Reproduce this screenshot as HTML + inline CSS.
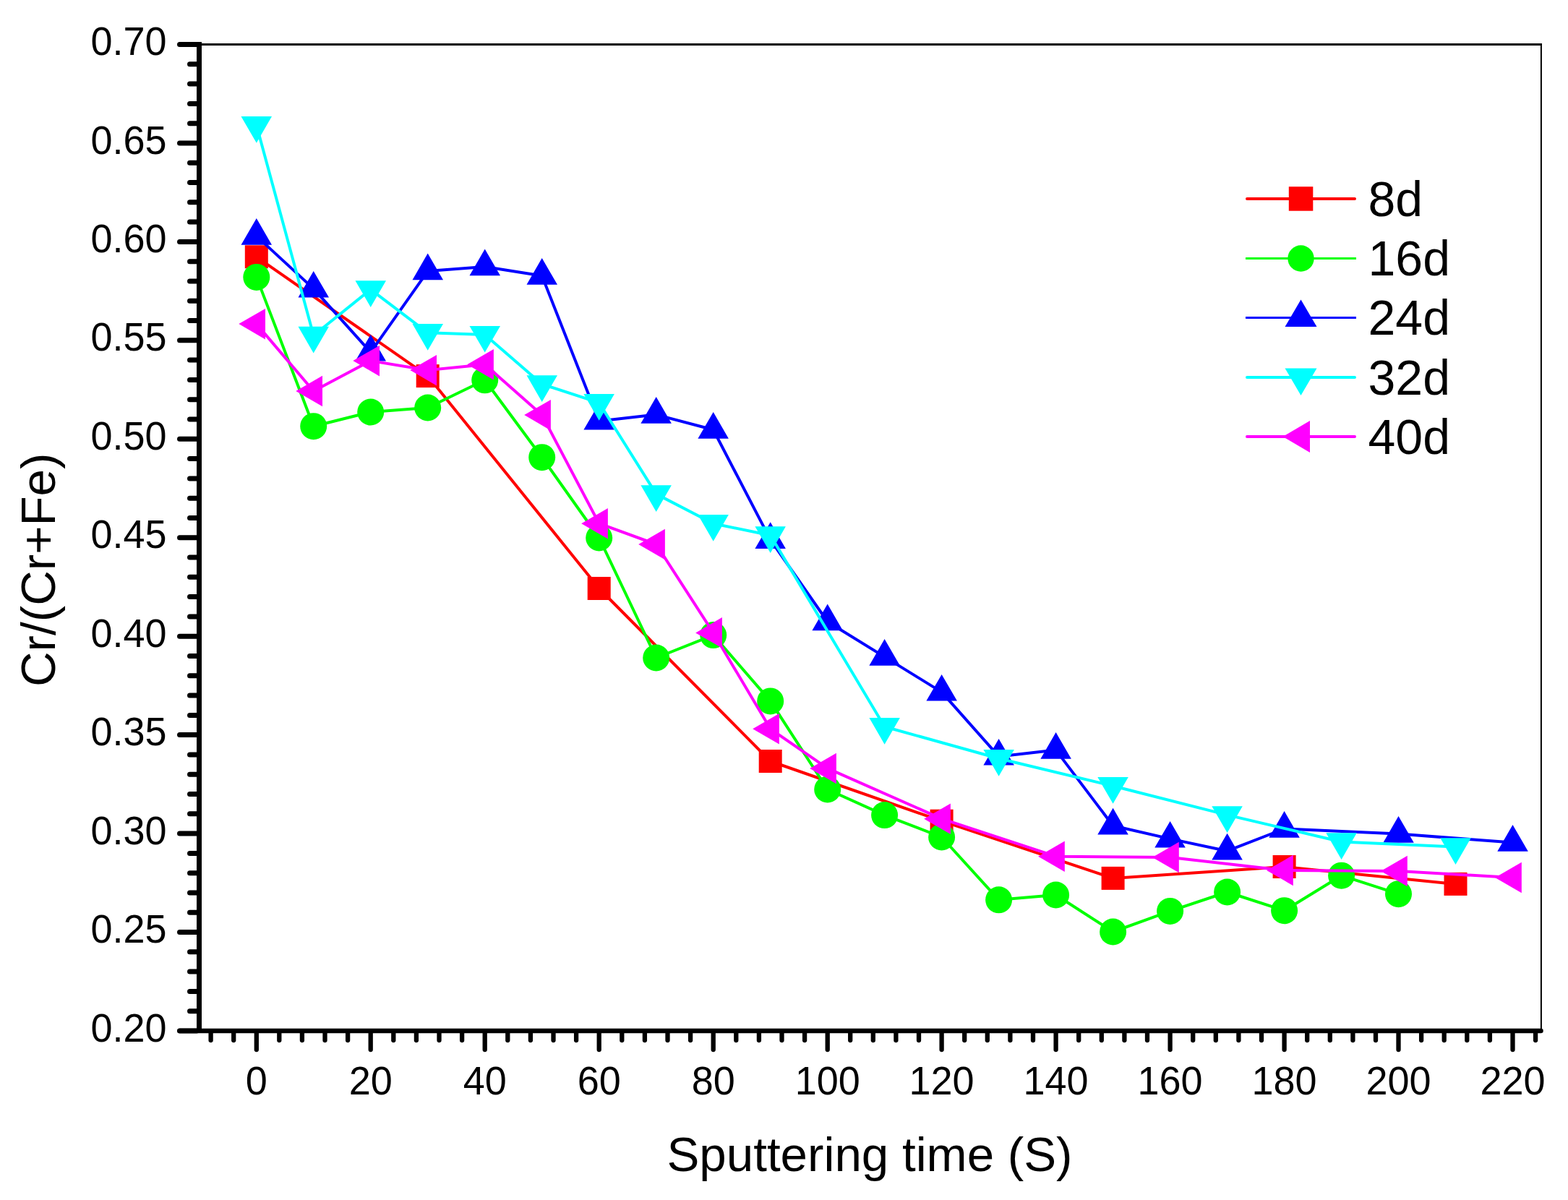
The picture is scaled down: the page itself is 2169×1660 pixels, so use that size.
<!DOCTYPE html>
<html><head><meta charset="utf-8"><title>Cr/(Cr+Fe) vs Sputtering time</title>
<style>html,body{margin:0;padding:0;background:#fff;}body{width:2169px;height:1660px;overflow:hidden;}svg{display:block;}text{font-family:"Liberation Sans",Arial,sans-serif;fill:#000;}</style>
</head><body>
<svg width="2169" height="1660" viewBox="0 0 2169 1660">
<rect width="2169" height="1660" fill="#fff"/>
<polyline points="354.8,355.3 591.7,520.1 828.7,814 1065.7,1053 1302.6,1135.7 1539.6,1214.9 1776.6,1199 2013.5,1222.9" fill="none" stroke="#ff0000" stroke-width="4" stroke-linejoin="round"/>
<rect x="338.8" y="339.3" width="32" height="32" fill="#ff0000"/>
<rect x="575.7" y="504.1" width="32" height="32" fill="#ff0000"/>
<rect x="812.7" y="798" width="32" height="32" fill="#ff0000"/>
<rect x="1049.7" y="1037" width="32" height="32" fill="#ff0000"/>
<rect x="1286.6" y="1119.7" width="32" height="32" fill="#ff0000"/>
<rect x="1523.6" y="1198.9" width="32" height="32" fill="#ff0000"/>
<rect x="1760.6" y="1183" width="32" height="32" fill="#ff0000"/>
<rect x="1997.5" y="1206.9" width="32" height="32" fill="#ff0000"/>
<polyline points="354.8,383.4 433.7,589.7 512.7,570 591.7,564 670.7,525.8 749.7,632.7 828.7,744 907.7,910 986.7,878.6 1065.7,969.9 1144.7,1092 1223.6,1127.6 1302.6,1158 1381.6,1244.8 1460.6,1238 1539.6,1289 1618.6,1260.4 1697.6,1234 1776.6,1259.7 1855.6,1211.2 1934.5,1236.7" fill="none" stroke="#00ff00" stroke-width="4" stroke-linejoin="round"/>
<circle cx="354.8" cy="383.4" r="18.5" fill="#00ff00"/>
<circle cx="433.7" cy="589.7" r="18.5" fill="#00ff00"/>
<circle cx="512.7" cy="570" r="18.5" fill="#00ff00"/>
<circle cx="591.7" cy="564" r="18.5" fill="#00ff00"/>
<circle cx="670.7" cy="525.8" r="18.5" fill="#00ff00"/>
<circle cx="749.7" cy="632.7" r="18.5" fill="#00ff00"/>
<circle cx="828.7" cy="744" r="18.5" fill="#00ff00"/>
<circle cx="907.7" cy="910" r="18.5" fill="#00ff00"/>
<circle cx="986.7" cy="878.6" r="18.5" fill="#00ff00"/>
<circle cx="1065.7" cy="969.9" r="18.5" fill="#00ff00"/>
<circle cx="1144.7" cy="1092" r="18.5" fill="#00ff00"/>
<circle cx="1223.6" cy="1127.6" r="18.5" fill="#00ff00"/>
<circle cx="1302.6" cy="1158" r="18.5" fill="#00ff00"/>
<circle cx="1381.6" cy="1244.8" r="18.5" fill="#00ff00"/>
<circle cx="1460.6" cy="1238" r="18.5" fill="#00ff00"/>
<circle cx="1539.6" cy="1289" r="18.5" fill="#00ff00"/>
<circle cx="1618.6" cy="1260.4" r="18.5" fill="#00ff00"/>
<circle cx="1697.6" cy="1234" r="18.5" fill="#00ff00"/>
<circle cx="1776.6" cy="1259.7" r="18.5" fill="#00ff00"/>
<circle cx="1855.6" cy="1211.2" r="18.5" fill="#00ff00"/>
<circle cx="1934.5" cy="1236.7" r="18.5" fill="#00ff00"/>
<polyline points="354.8,326.6 433.7,399.4 512.7,487.3 591.7,375.1 670.7,369 749.7,381.5 828.7,582.4 907.7,573.6 986.7,594.5 1065.7,746.7 1144.7,860 1223.6,908.6 1302.6,957.4 1381.6,1046.4 1460.6,1037.6 1539.6,1142.3 1618.6,1160.4 1697.6,1177.2 1776.6,1146.5 1934.5,1153.5 2092.5,1165.6" fill="none" stroke="#0000ff" stroke-width="4" stroke-linejoin="round"/>
<polygon points="354.8,302.1 376,338.8 333.5,338.8" fill="#0000ff"/>
<polygon points="433.7,374.9 455,411.6 412.5,411.6" fill="#0000ff"/>
<polygon points="512.7,462.8 534,499.5 491.5,499.5" fill="#0000ff"/>
<polygon points="591.7,350.6 613,387.3 570.5,387.3" fill="#0000ff"/>
<polygon points="670.7,344.5 692,381.2 649.5,381.2" fill="#0000ff"/>
<polygon points="749.7,357 771,393.7 728.5,393.7" fill="#0000ff"/>
<polygon points="828.7,557.9 849.9,594.6 807.4,594.6" fill="#0000ff"/>
<polygon points="907.7,549.1 928.9,585.8 886.4,585.8" fill="#0000ff"/>
<polygon points="986.7,570 1007.9,606.7 965.4,606.7" fill="#0000ff"/>
<polygon points="1065.7,722.2 1086.9,758.9 1044.4,758.9" fill="#0000ff"/>
<polygon points="1144.7,835.5 1165.9,872.2 1123.4,872.2" fill="#0000ff"/>
<polygon points="1223.6,884.1 1244.9,920.8 1202.4,920.8" fill="#0000ff"/>
<polygon points="1302.6,932.9 1323.9,969.6 1281.4,969.6" fill="#0000ff"/>
<polygon points="1381.6,1021.9 1402.9,1058.6 1360.4,1058.6" fill="#0000ff"/>
<polygon points="1460.6,1013.1 1481.9,1049.8 1439.4,1049.8" fill="#0000ff"/>
<polygon points="1539.6,1117.8 1560.8,1154.5 1518.3,1154.5" fill="#0000ff"/>
<polygon points="1618.6,1135.9 1639.8,1172.6 1597.3,1172.6" fill="#0000ff"/>
<polygon points="1697.6,1152.7 1718.8,1189.4 1676.3,1189.4" fill="#0000ff"/>
<polygon points="1776.6,1122 1797.8,1158.7 1755.3,1158.7" fill="#0000ff"/>
<polygon points="1934.5,1129 1955.8,1165.7 1913.3,1165.7" fill="#0000ff"/>
<polygon points="2092.5,1141.1 2113.8,1177.8 2071.3,1177.8" fill="#0000ff"/>
<polyline points="354.8,173.3 433.7,464 512.7,400.4 591.7,460.3 670.7,463.1 749.7,531.4 828.7,557.2 907.7,683.4 986.7,724.3 1065.7,740.5 1223.6,1005.2 1381.6,1049.3 1539.6,1087.3 1697.6,1127.4 1855.6,1164.5 2013.5,1171.4" fill="none" stroke="#00ffff" stroke-width="4" stroke-linejoin="round"/>
<polygon points="354.8,197.8 376,161.1 333.5,161.1" fill="#00ffff"/>
<polygon points="433.7,488.5 455,451.8 412.5,451.8" fill="#00ffff"/>
<polygon points="512.7,424.9 534,388.2 491.5,388.2" fill="#00ffff"/>
<polygon points="591.7,484.8 613,448.1 570.5,448.1" fill="#00ffff"/>
<polygon points="670.7,487.6 692,450.9 649.5,450.9" fill="#00ffff"/>
<polygon points="749.7,555.9 771,519.2 728.5,519.2" fill="#00ffff"/>
<polygon points="828.7,581.7 849.9,545 807.4,545" fill="#00ffff"/>
<polygon points="907.7,707.9 928.9,671.2 886.4,671.2" fill="#00ffff"/>
<polygon points="986.7,748.8 1007.9,712.1 965.4,712.1" fill="#00ffff"/>
<polygon points="1065.7,765 1086.9,728.3 1044.4,728.3" fill="#00ffff"/>
<polygon points="1223.6,1029.7 1244.9,993 1202.4,993" fill="#00ffff"/>
<polygon points="1381.6,1073.8 1402.9,1037.1 1360.4,1037.1" fill="#00ffff"/>
<polygon points="1539.6,1111.8 1560.8,1075.1 1518.3,1075.1" fill="#00ffff"/>
<polygon points="1697.6,1151.9 1718.8,1115.2 1676.3,1115.2" fill="#00ffff"/>
<polygon points="1855.6,1189 1876.8,1152.3 1834.3,1152.3" fill="#00ffff"/>
<polygon points="2013.5,1195.9 2034.8,1159.2 1992.3,1159.2" fill="#00ffff"/>
<polyline points="354.8,448.1 433.7,541 512.7,499.1 591.7,512.1 670.7,504.2 749.7,574.1 828.7,724.2 907.7,753 986.7,875.4 1065.7,1008.3 1144.7,1062.9 1302.6,1132.7 1460.6,1184.7 1618.6,1185.9 1776.6,1204 1934.5,1204.9 2092.5,1214" fill="none" stroke="#ff00ff" stroke-width="4" stroke-linejoin="round"/>
<polygon points="330.3,448.1 367,426.9 367,469.4" fill="#ff00ff"/>
<polygon points="409.3,541 446,519.8 446,562.2" fill="#ff00ff"/>
<polygon points="488.3,499.1 525,477.9 525,520.4" fill="#ff00ff"/>
<polygon points="567.3,512.1 604,490.9 604,533.4" fill="#ff00ff"/>
<polygon points="646.2,504.2 682.9,482.9 682.9,525.5" fill="#ff00ff"/>
<polygon points="725.2,574.1 761.9,552.9 761.9,595.4" fill="#ff00ff"/>
<polygon points="804.2,724.2 840.9,703 840.9,745.5" fill="#ff00ff"/>
<polygon points="883.2,753 919.9,731.8 919.9,774.2" fill="#ff00ff"/>
<polygon points="962.2,875.4 998.9,854.1 998.9,896.6" fill="#ff00ff"/>
<polygon points="1041.2,1008.3 1077.9,987 1077.9,1029.5" fill="#ff00ff"/>
<polygon points="1120.2,1062.9 1156.9,1041.7 1156.9,1084.2" fill="#ff00ff"/>
<polygon points="1278.2,1132.7 1314.9,1111.5 1314.9,1154" fill="#ff00ff"/>
<polygon points="1436.1,1184.7 1472.8,1163.5 1472.8,1206" fill="#ff00ff"/>
<polygon points="1594.1,1185.9 1630.8,1164.7 1630.8,1207.2" fill="#ff00ff"/>
<polygon points="1752.1,1204 1788.8,1182.8 1788.8,1225.2" fill="#ff00ff"/>
<polygon points="1910.1,1204.9 1946.8,1183.7 1946.8,1226.2" fill="#ff00ff"/>
<polygon points="2068.1,1214 2104.8,1192.8 2104.8,1235.2" fill="#ff00ff"/>
<g stroke="#000" fill="none">
<line x1="275.5" y1="61.5" x2="2132.9" y2="61.5" stroke-width="3"/>
<line x1="2131.9" y1="60" x2="2131.9" y2="1426" stroke-width="2"/>
<line x1="275.5" y1="58" x2="275.5" y2="1426" stroke-width="7"/>
<line x1="248.5" y1="1426" x2="2131.5" y2="1426" stroke-width="6.5" stroke-linecap="round"/>
</g>
<g stroke="#000" stroke-width="7" stroke-linecap="round">
<line x1="248.5" y1="1426" x2="272" y2="1426"/>
<line x1="262.5" y1="1398.7" x2="272" y2="1398.7"/>
<line x1="262.5" y1="1371.4" x2="272" y2="1371.4"/>
<line x1="262.5" y1="1344.1" x2="272" y2="1344.1"/>
<line x1="262.5" y1="1316.8" x2="272" y2="1316.8"/>
<line x1="248.5" y1="1289.5" x2="272" y2="1289.5"/>
<line x1="262.5" y1="1262.3" x2="272" y2="1262.3"/>
<line x1="262.5" y1="1235" x2="272" y2="1235"/>
<line x1="262.5" y1="1207.7" x2="272" y2="1207.7"/>
<line x1="262.5" y1="1180.4" x2="272" y2="1180.4"/>
<line x1="248.5" y1="1153.1" x2="272" y2="1153.1"/>
<line x1="262.5" y1="1125.8" x2="272" y2="1125.8"/>
<line x1="262.5" y1="1098.5" x2="272" y2="1098.5"/>
<line x1="262.5" y1="1071.2" x2="272" y2="1071.2"/>
<line x1="262.5" y1="1043.9" x2="272" y2="1043.9"/>
<line x1="248.5" y1="1016.6" x2="272" y2="1016.6"/>
<line x1="262.5" y1="989.4" x2="272" y2="989.4"/>
<line x1="262.5" y1="962.1" x2="272" y2="962.1"/>
<line x1="262.5" y1="934.8" x2="272" y2="934.8"/>
<line x1="262.5" y1="907.5" x2="272" y2="907.5"/>
<line x1="248.5" y1="880.2" x2="272" y2="880.2"/>
<line x1="262.5" y1="852.9" x2="272" y2="852.9"/>
<line x1="262.5" y1="825.6" x2="272" y2="825.6"/>
<line x1="262.5" y1="798.3" x2="272" y2="798.3"/>
<line x1="262.5" y1="771" x2="272" y2="771"/>
<line x1="248.5" y1="743.7" x2="272" y2="743.7"/>
<line x1="262.5" y1="716.5" x2="272" y2="716.5"/>
<line x1="262.5" y1="689.2" x2="272" y2="689.2"/>
<line x1="262.5" y1="661.9" x2="272" y2="661.9"/>
<line x1="262.5" y1="634.6" x2="272" y2="634.6"/>
<line x1="248.5" y1="607.3" x2="272" y2="607.3"/>
<line x1="262.5" y1="580" x2="272" y2="580"/>
<line x1="262.5" y1="552.7" x2="272" y2="552.7"/>
<line x1="262.5" y1="525.4" x2="272" y2="525.4"/>
<line x1="262.5" y1="498.1" x2="272" y2="498.1"/>
<line x1="248.5" y1="470.8" x2="272" y2="470.8"/>
<line x1="262.5" y1="443.6" x2="272" y2="443.6"/>
<line x1="262.5" y1="416.3" x2="272" y2="416.3"/>
<line x1="262.5" y1="389" x2="272" y2="389"/>
<line x1="262.5" y1="361.7" x2="272" y2="361.7"/>
<line x1="248.5" y1="334.4" x2="272" y2="334.4"/>
<line x1="262.5" y1="307.1" x2="272" y2="307.1"/>
<line x1="262.5" y1="279.8" x2="272" y2="279.8"/>
<line x1="262.5" y1="252.5" x2="272" y2="252.5"/>
<line x1="262.5" y1="225.2" x2="272" y2="225.2"/>
<line x1="248.5" y1="197.9" x2="272" y2="197.9"/>
<line x1="262.5" y1="170.7" x2="272" y2="170.7"/>
<line x1="262.5" y1="143.4" x2="272" y2="143.4"/>
<line x1="262.5" y1="116.1" x2="272" y2="116.1"/>
<line x1="262.5" y1="88.8" x2="272" y2="88.8"/>
<line x1="248.5" y1="61.5" x2="272" y2="61.5"/>
</g>
<g stroke="#000" stroke-width="6.3" stroke-linecap="round">
<line x1="291.6" y1="1429" x2="291.6" y2="1439" />
<line x1="323.2" y1="1429" x2="323.2" y2="1439" />
<line x1="354.8" y1="1429" x2="354.8" y2="1452" />
<line x1="386.3" y1="1429" x2="386.3" y2="1439" />
<line x1="417.9" y1="1429" x2="417.9" y2="1439" />
<line x1="449.5" y1="1429" x2="449.5" y2="1439" />
<line x1="481.1" y1="1429" x2="481.1" y2="1439" />
<line x1="512.7" y1="1429" x2="512.7" y2="1452" />
<line x1="544.3" y1="1429" x2="544.3" y2="1439" />
<line x1="575.9" y1="1429" x2="575.9" y2="1439" />
<line x1="607.5" y1="1429" x2="607.5" y2="1439" />
<line x1="639.1" y1="1429" x2="639.1" y2="1439" />
<line x1="670.7" y1="1429" x2="670.7" y2="1452" />
<line x1="702.3" y1="1429" x2="702.3" y2="1439" />
<line x1="733.9" y1="1429" x2="733.9" y2="1439" />
<line x1="765.5" y1="1429" x2="765.5" y2="1439" />
<line x1="797.1" y1="1429" x2="797.1" y2="1439" />
<line x1="828.7" y1="1429" x2="828.7" y2="1452" />
<line x1="860.3" y1="1429" x2="860.3" y2="1439" />
<line x1="891.9" y1="1429" x2="891.9" y2="1439" />
<line x1="923.5" y1="1429" x2="923.5" y2="1439" />
<line x1="955.1" y1="1429" x2="955.1" y2="1439" />
<line x1="986.7" y1="1429" x2="986.7" y2="1452" />
<line x1="1018.3" y1="1429" x2="1018.3" y2="1439" />
<line x1="1049.9" y1="1429" x2="1049.9" y2="1439" />
<line x1="1081.5" y1="1429" x2="1081.5" y2="1439" />
<line x1="1113.1" y1="1429" x2="1113.1" y2="1439" />
<line x1="1144.7" y1="1429" x2="1144.7" y2="1452" />
<line x1="1176.2" y1="1429" x2="1176.2" y2="1439" />
<line x1="1207.8" y1="1429" x2="1207.8" y2="1439" />
<line x1="1239.4" y1="1429" x2="1239.4" y2="1439" />
<line x1="1271" y1="1429" x2="1271" y2="1439" />
<line x1="1302.6" y1="1429" x2="1302.6" y2="1452" />
<line x1="1334.2" y1="1429" x2="1334.2" y2="1439" />
<line x1="1365.8" y1="1429" x2="1365.8" y2="1439" />
<line x1="1397.4" y1="1429" x2="1397.4" y2="1439" />
<line x1="1429" y1="1429" x2="1429" y2="1439" />
<line x1="1460.6" y1="1429" x2="1460.6" y2="1452" />
<line x1="1492.2" y1="1429" x2="1492.2" y2="1439" />
<line x1="1523.8" y1="1429" x2="1523.8" y2="1439" />
<line x1="1555.4" y1="1429" x2="1555.4" y2="1439" />
<line x1="1587" y1="1429" x2="1587" y2="1439" />
<line x1="1618.6" y1="1429" x2="1618.6" y2="1452" />
<line x1="1650.2" y1="1429" x2="1650.2" y2="1439" />
<line x1="1681.8" y1="1429" x2="1681.8" y2="1439" />
<line x1="1713.4" y1="1429" x2="1713.4" y2="1439" />
<line x1="1745" y1="1429" x2="1745" y2="1439" />
<line x1="1776.6" y1="1429" x2="1776.6" y2="1452" />
<line x1="1808.2" y1="1429" x2="1808.2" y2="1439" />
<line x1="1839.8" y1="1429" x2="1839.8" y2="1439" />
<line x1="1871.4" y1="1429" x2="1871.4" y2="1439" />
<line x1="1903" y1="1429" x2="1903" y2="1439" />
<line x1="1934.5" y1="1429" x2="1934.5" y2="1452" />
<line x1="1966.1" y1="1429" x2="1966.1" y2="1439" />
<line x1="1997.7" y1="1429" x2="1997.7" y2="1439" />
<line x1="2029.3" y1="1429" x2="2029.3" y2="1439" />
<line x1="2060.9" y1="1429" x2="2060.9" y2="1439" />
<line x1="2092.5" y1="1429" x2="2092.5" y2="1452" />
<line x1="2124.1" y1="1429" x2="2124.1" y2="1439" />
</g>
<g font-size="55.2">
<text transform="translate(230.5,1440.6) scale(0.978,1)" text-anchor="end">0.20</text>
<text transform="translate(230.5,1304.1) scale(0.978,1)" text-anchor="end">0.25</text>
<text transform="translate(230.5,1167.7) scale(0.978,1)" text-anchor="end">0.30</text>
<text transform="translate(230.5,1031.2) scale(0.978,1)" text-anchor="end">0.35</text>
<text transform="translate(230.5,894.8) scale(0.978,1)" text-anchor="end">0.40</text>
<text transform="translate(230.5,758.3) scale(0.978,1)" text-anchor="end">0.45</text>
<text transform="translate(230.5,621.9) scale(0.978,1)" text-anchor="end">0.50</text>
<text transform="translate(230.5,485.4) scale(0.978,1)" text-anchor="end">0.55</text>
<text transform="translate(230.5,349) scale(0.978,1)" text-anchor="end">0.60</text>
<text transform="translate(230.5,212.5) scale(0.978,1)" text-anchor="end">0.65</text>
<text transform="translate(230.5,76.1) scale(0.978,1)" text-anchor="end">0.70</text>
<text transform="translate(354.8,1513.5) scale(0.978,1)" text-anchor="middle">0</text>
<text transform="translate(512.7,1513.5) scale(0.978,1)" text-anchor="middle">20</text>
<text transform="translate(670.7,1513.5) scale(0.978,1)" text-anchor="middle">40</text>
<text transform="translate(828.7,1513.5) scale(0.978,1)" text-anchor="middle">60</text>
<text transform="translate(986.7,1513.5) scale(0.978,1)" text-anchor="middle">80</text>
<text transform="translate(1144.7,1513.5) scale(0.978,1)" text-anchor="middle">100</text>
<text transform="translate(1302.6,1513.5) scale(0.978,1)" text-anchor="middle">120</text>
<text transform="translate(1460.6,1513.5) scale(0.978,1)" text-anchor="middle">140</text>
<text transform="translate(1618.6,1513.5) scale(0.978,1)" text-anchor="middle">160</text>
<text transform="translate(1776.6,1513.5) scale(0.978,1)" text-anchor="middle">180</text>
<text transform="translate(1934.5,1513.5) scale(0.978,1)" text-anchor="middle">200</text>
<text transform="translate(2092.5,1513.5) scale(0.978,1)" text-anchor="middle">220</text>
</g>
<text x="1203" y="1620" font-size="67.3" text-anchor="middle">Sputtering time (S)</text>
<text transform="translate(76,788.3) rotate(-90)" x="0" y="0" font-size="67.3" text-anchor="middle">Cr/(Cr+Fe)</text>
<line x1="1725" y1="275" x2="1874" y2="275" stroke="#ff0000" stroke-width="4" stroke-linecap="round"/>
<rect x="1782.8" y="258.2" width="33.5" height="33.5" fill="#ff0000"/>
<text x="1892.5" y="298.5" font-size="68">8d</text>
<line x1="1723" y1="357.5" x2="1876" y2="357.5" stroke="#00ff00" stroke-width="3"/>
<circle cx="1799.5" cy="357.5" r="18.2" fill="#00ff00"/>
<text x="1892.5" y="381" font-size="68">16d</text>
<line x1="1723" y1="439.5" x2="1876" y2="439.5" stroke="#0000ff" stroke-width="3"/>
<polygon points="1799.5,414.4 1821.5,452 1777.5,452" fill="#0000ff"/>
<text x="1892.5" y="463" font-size="68">24d</text>
<line x1="1725" y1="522" x2="1874" y2="522" stroke="#00ffff" stroke-width="4" stroke-linecap="round"/>
<polygon points="1799.5,547.1 1821.5,509.5 1777.5,509.5" fill="#00ffff"/>
<text x="1892.5" y="545.5" font-size="68">32d</text>
<line x1="1724.9" y1="604" x2="1874.1" y2="604" stroke="#ff00ff" stroke-width="3.8" stroke-linecap="round"/>
<polygon points="1774.4,604 1812,582 1812,626" fill="#ff00ff"/>
<text x="1892.5" y="627.5" font-size="68">40d</text>
</svg>
</body></html>
